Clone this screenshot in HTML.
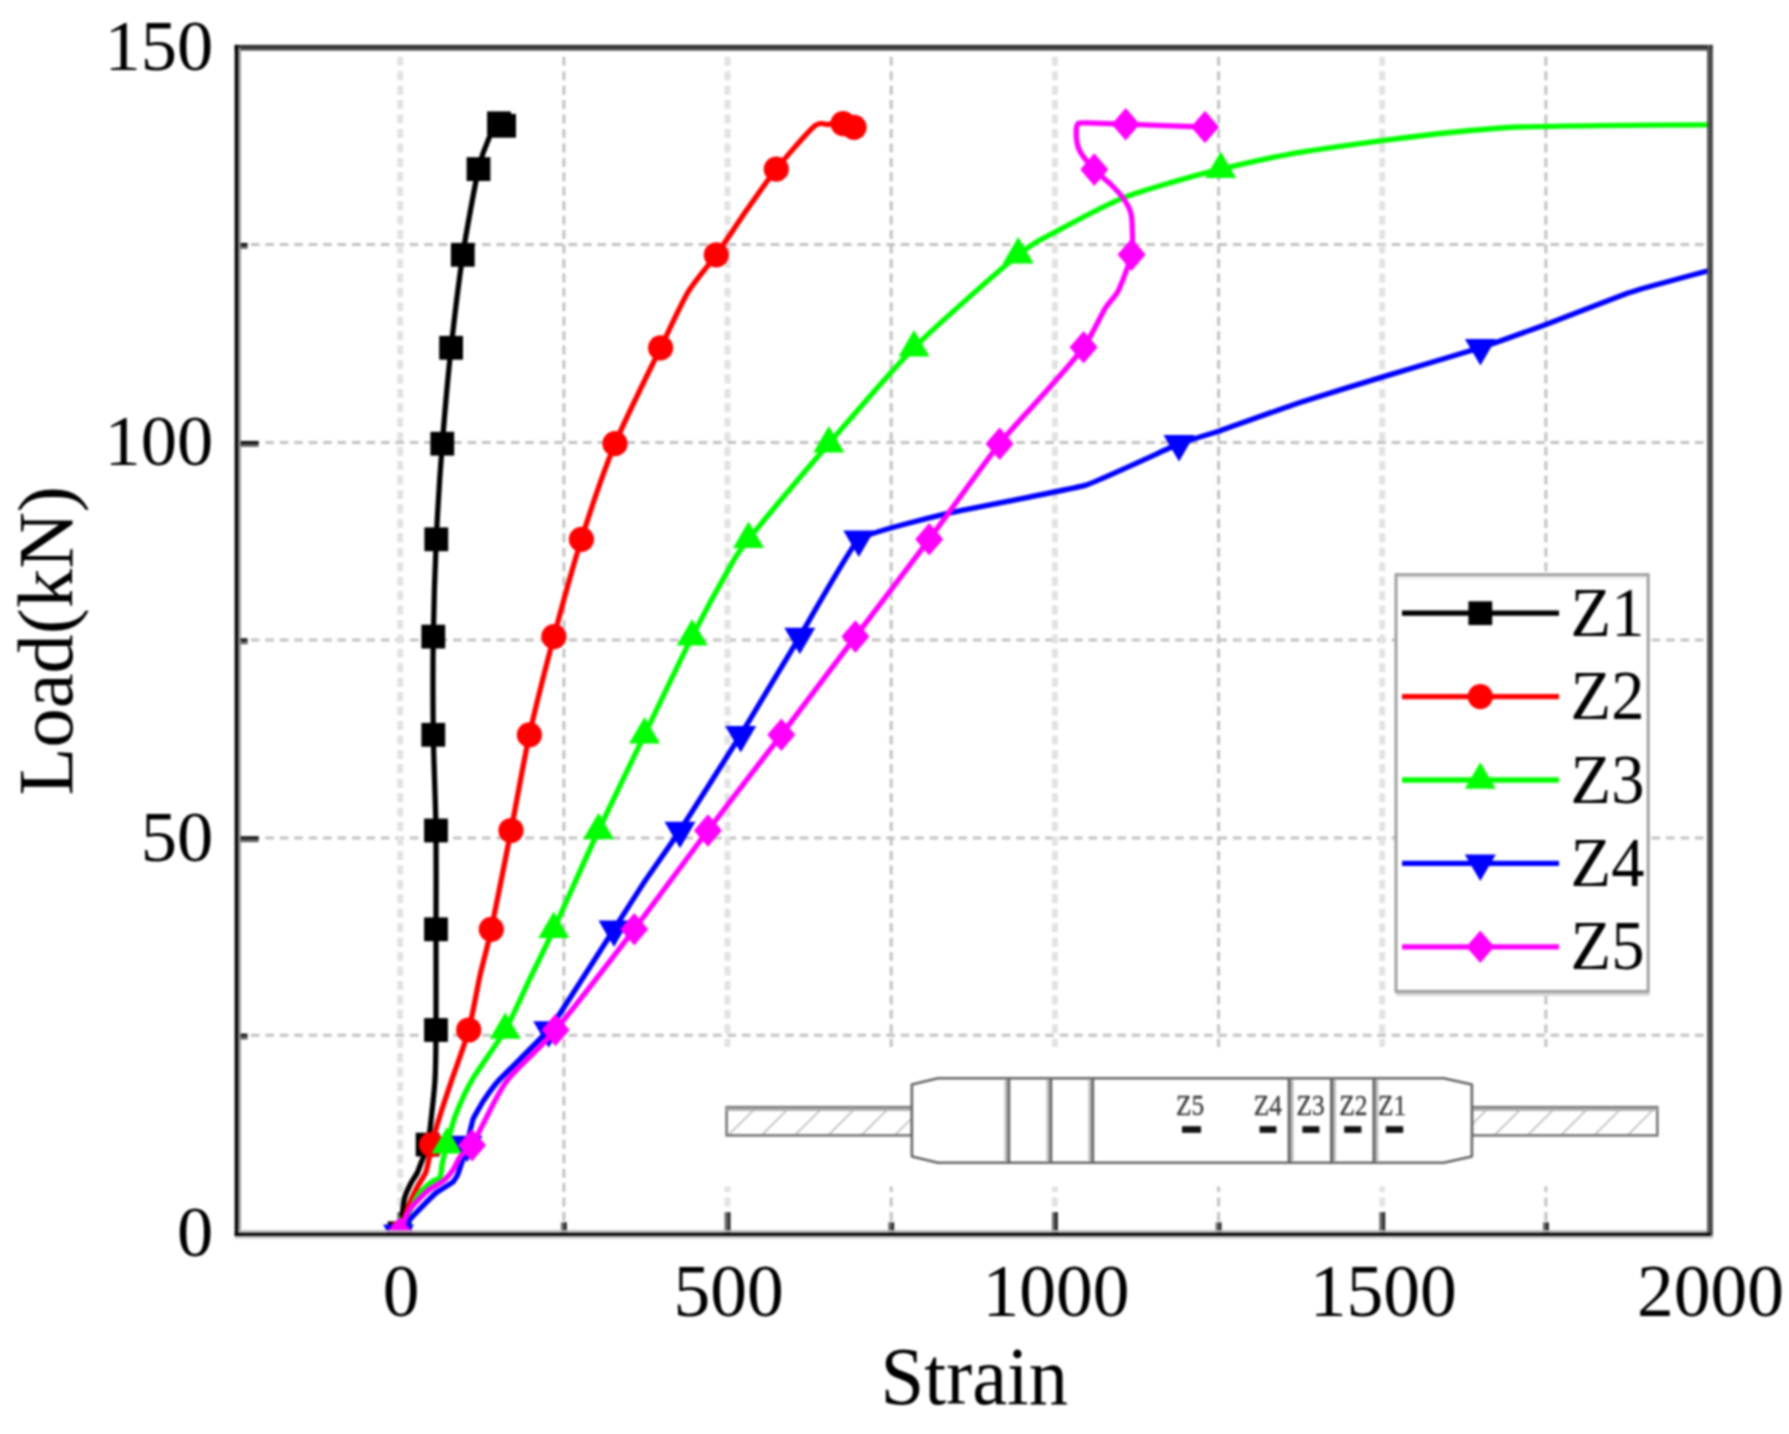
<!DOCTYPE html>
<html lang="en">
<head>
<meta charset="utf-8">
<title>Load-Strain curves</title>
<style>
html,body{margin:0;padding:0;background:#ffffff;}
body{width:1789px;height:1434px;overflow:hidden;font-family:"Liberation Serif",serif;}
svg{display:block;filter:blur(0.8px);}
</style>
</head>
<body>
<svg width="1789" height="1434" viewBox="0 0 1789 1434">
<rect x="0" y="0" width="1789" height="1434" fill="#ffffff"/>
<defs>
<clipPath id="plotclip"><rect x="237.5" y="48.2" width="1472.5" height="1184.8"/></clipPath>
<clipPath id="barL"><rect x="727" y="1107.5" width="185" height="28"/></clipPath>
<clipPath id="barR"><rect x="1472" y="1107.5" width="185" height="28"/></clipPath>
</defs>
<g fill="none">
<line x1="236.5" y1="1035.3" x2="1707.0" y2="1035.3" stroke="#c2c2c2" stroke-width="3" stroke-dasharray="8.6 5.84"/>
<line x1="236.5" y1="837.9" x2="1707.0" y2="837.9" stroke="#c2c2c2" stroke-width="3" stroke-dasharray="8.6 5.84"/>
<line x1="236.5" y1="640.0" x2="1707.0" y2="640.0" stroke="#c2c2c2" stroke-width="3" stroke-dasharray="8.6 5.84"/>
<line x1="236.5" y1="442.6" x2="1707.0" y2="442.6" stroke="#c2c2c2" stroke-width="3" stroke-dasharray="8.6 5.84"/>
<line x1="236.5" y1="244.6" x2="1707.0" y2="244.6" stroke="#c2c2c2" stroke-width="3" stroke-dasharray="8.6 5.84"/>
<line x1="563.9" y1="56.8" x2="563.9" y2="1230" stroke="#c2c2c2" stroke-width="3" stroke-dasharray="9 5.44"/>
<line x1="891.2" y1="56.8" x2="891.2" y2="1230" stroke="#c2c2c2" stroke-width="3" stroke-dasharray="9 5.44"/>
<line x1="1218.6" y1="56.8" x2="1218.6" y2="1230" stroke="#c2c2c2" stroke-width="3" stroke-dasharray="9 5.44"/>
<line x1="1545.9" y1="56.8" x2="1545.9" y2="1230" stroke="#c2c2c2" stroke-width="3" stroke-dasharray="9 5.44"/>
<line x1="400.2" y1="56.8" x2="400.2" y2="1230" stroke="#e2e2e2" stroke-width="5.9" stroke-dasharray="9 5.44"/>
<line x1="727.5" y1="56.8" x2="727.5" y2="1230" stroke="#e2e2e2" stroke-width="5.9" stroke-dasharray="9 5.44"/>
<line x1="1054.9" y1="56.8" x2="1054.9" y2="1230" stroke="#e2e2e2" stroke-width="5.9" stroke-dasharray="9 5.44"/>
<line x1="1382.2" y1="56.8" x2="1382.2" y2="1230" stroke="#e2e2e2" stroke-width="5.9" stroke-dasharray="9 5.44"/>
</g>
<g>
<rect x="397.25" y="1212.1" width="2.95" height="21" fill="#6a6a6a"/><rect x="400.20" y="1212.1" width="2.95" height="21" fill="#262626"/>
<rect x="724.60" y="1212.1" width="2.95" height="21" fill="#6a6a6a"/><rect x="727.55" y="1212.1" width="2.95" height="21" fill="#262626"/>
<rect x="1051.95" y="1212.1" width="2.95" height="21" fill="#6a6a6a"/><rect x="1054.90" y="1212.1" width="2.95" height="21" fill="#262626"/>
<rect x="1379.30" y="1212.1" width="2.95" height="21" fill="#6a6a6a"/><rect x="1382.25" y="1212.1" width="2.95" height="21" fill="#262626"/>
<rect x="560.92" y="1222.3" width="2.95" height="11" fill="#6a6a6a"/><rect x="563.88" y="1222.3" width="2.95" height="11" fill="#262626"/>
<rect x="888.27" y="1222.3" width="2.95" height="11" fill="#6a6a6a"/><rect x="891.22" y="1222.3" width="2.95" height="11" fill="#262626"/>
<rect x="1215.62" y="1222.3" width="2.95" height="11" fill="#6a6a6a"/><rect x="1218.57" y="1222.3" width="2.95" height="11" fill="#262626"/>
<rect x="1542.97" y="1222.3" width="2.95" height="11" fill="#6a6a6a"/><rect x="1545.92" y="1222.3" width="2.95" height="11" fill="#262626"/>
<rect x="238" y="836.25" width="20.6" height="3.0" fill="#101010"/><rect x="238" y="839.20" width="20.6" height="2.9" fill="#5a5a5a"/>
<rect x="238" y="440.95" width="20.6" height="3.0" fill="#101010"/><rect x="238" y="443.90" width="20.6" height="2.9" fill="#5a5a5a"/>
<rect x="238" y="1033.65" width="9.6" height="3.0" fill="#101010"/><rect x="238" y="1036.60" width="9.6" height="2.9" fill="#5a5a5a"/>
<rect x="238" y="638.35" width="9.6" height="3.0" fill="#101010"/><rect x="238" y="641.30" width="9.6" height="2.9" fill="#5a5a5a"/>
<rect x="238" y="242.95" width="9.6" height="3.0" fill="#101010"/><rect x="238" y="245.90" width="9.6" height="2.9" fill="#5a5a5a"/>
</g>
<g clip-path="url(#plotclip)">
<path d="M399.6,1233.3 C399.8,1231.9 400.9,1226.3 401.5,1222.0 C402.1,1217.7 403.3,1203.3 404.4,1198.6 C405.5,1193.9 408.7,1187.6 410.3,1184.3 C411.9,1181.0 416.1,1175.2 417.4,1172.5 C418.7,1169.8 420.2,1165.1 421.0,1163.0 C421.8,1160.9 423.0,1158.3 423.8,1156.0 C424.6,1153.7 426.8,1148.5 427.6,1144.6 C428.4,1140.7 429.6,1133.1 430.5,1125.0 C431.4,1116.9 434.3,1091.8 435.0,1079.9 C435.7,1068.0 435.9,1048.8 436.0,1030.0 C436.1,1011.2 436.0,954.2 436.0,929.3 C436.0,904.4 436.3,854.8 436.0,830.5 C435.7,806.2 433.6,759.0 433.3,734.8 C433.0,710.6 432.9,661.0 433.3,636.6 C433.7,612.2 435.2,563.4 436.3,539.3 C437.4,515.2 440.4,467.6 442.3,443.7 C444.2,419.8 448.5,371.4 451.1,347.8 C453.7,324.2 459.4,277.1 462.8,254.8 C466.2,232.5 475.2,183.7 478.5,169.1 C481.8,154.5 486.4,143.8 489.0,138.0 C491.6,132.3 497.1,124.8 499.0,123.3 C500.9,121.8 503.5,125.5 504.1,125.8" fill="none" stroke="#000000" stroke-width="5.3" stroke-linejoin="round" stroke-linecap="butt"/>
<rect x="387.7" y="1221.4" width="23.8" height="23.8" fill="#000000"/>
<rect x="415.7" y="1132.7" width="23.8" height="23.8" fill="#000000"/>
<rect x="424.1" y="1018.1" width="23.8" height="23.8" fill="#000000"/>
<rect x="424.1" y="917.4" width="23.8" height="23.8" fill="#000000"/>
<rect x="424.1" y="818.6" width="23.8" height="23.8" fill="#000000"/>
<rect x="421.4" y="722.9" width="23.8" height="23.8" fill="#000000"/>
<rect x="421.4" y="624.7" width="23.8" height="23.8" fill="#000000"/>
<rect x="424.4" y="527.4" width="23.8" height="23.8" fill="#000000"/>
<rect x="430.4" y="431.8" width="23.8" height="23.8" fill="#000000"/>
<rect x="439.2" y="335.9" width="23.8" height="23.8" fill="#000000"/>
<rect x="450.9" y="242.9" width="23.8" height="23.8" fill="#000000"/>
<rect x="466.6" y="157.2" width="23.8" height="23.8" fill="#000000"/>
<rect x="487.1" y="111.4" width="23.8" height="23.8" fill="#000000"/>
<rect x="492.2" y="113.9" width="23.8" height="23.8" fill="#000000"/>
<path d="M399.6,1233.3 C400.8,1229.7 406.9,1210.3 409.1,1204.5 C411.3,1198.7 415.3,1190.7 417.4,1186.7 C419.5,1182.7 424.2,1176.2 425.7,1172.5 C427.2,1168.8 428.6,1160.5 429.3,1157.0 C430.0,1153.5 430.3,1149.8 431.6,1144.6 C432.9,1139.4 437.5,1123.6 440.0,1115.5 C442.5,1107.5 448.2,1090.6 451.8,1079.9 C455.4,1069.2 465.2,1043.1 468.7,1030.0 C472.2,1016.9 477.2,988.0 480.0,975.5 C482.8,962.9 487.4,947.4 491.3,929.3 C495.2,911.2 506.2,854.8 511.0,830.5 C515.8,806.2 524.0,759.0 529.4,734.8 C534.8,710.6 547.4,661.0 553.9,636.6 C560.4,612.2 573.8,563.4 581.4,539.3 C589.0,515.2 605.1,467.6 615.0,443.7 C624.9,419.8 651.4,366.8 660.6,347.8 C669.8,328.8 681.3,303.3 688.3,291.7 C695.3,280.1 709.1,264.9 716.3,254.8 C723.5,244.7 738.5,221.9 746.0,211.1 C753.5,200.4 767.8,179.7 776.3,169.1 C784.8,158.5 807.5,132.0 814.0,126.4 C820.5,120.8 824.4,124.8 828.0,124.4 C831.6,124.0 839.8,123.2 843.0,123.6 C846.2,124.0 852.6,126.8 854.0,127.3" fill="none" stroke="#ff0000" stroke-width="5.3" stroke-linejoin="round" stroke-linecap="butt"/>
<circle cx="399.6" cy="1233.3" r="12.6" fill="#ff0000"/>
<circle cx="431.6" cy="1144.6" r="12.6" fill="#ff0000"/>
<circle cx="468.7" cy="1030.0" r="12.6" fill="#ff0000"/>
<circle cx="491.3" cy="929.3" r="12.6" fill="#ff0000"/>
<circle cx="511.0" cy="830.5" r="12.6" fill="#ff0000"/>
<circle cx="529.4" cy="734.8" r="12.6" fill="#ff0000"/>
<circle cx="553.9" cy="636.6" r="12.6" fill="#ff0000"/>
<circle cx="581.4" cy="539.3" r="12.6" fill="#ff0000"/>
<circle cx="615.0" cy="443.7" r="12.6" fill="#ff0000"/>
<circle cx="660.6" cy="347.8" r="12.6" fill="#ff0000"/>
<circle cx="716.3" cy="254.8" r="12.6" fill="#ff0000"/>
<circle cx="776.3" cy="169.1" r="12.6" fill="#ff0000"/>
<circle cx="843.0" cy="123.6" r="12.6" fill="#ff0000"/>
<circle cx="854.0" cy="127.3" r="12.6" fill="#ff0000"/>
<path d="M399.6,1233.3 C401.8,1228.7 413.4,1202.6 417.4,1196.2 C421.4,1189.8 428.8,1184.4 431.6,1182.0 C434.4,1179.6 438.7,1179.6 440.0,1177.2 C441.3,1174.8 441.4,1167.1 442.3,1163.0 C443.2,1158.9 445.4,1150.5 447.0,1144.6 C448.6,1138.7 452.3,1123.6 455.4,1115.5 C458.5,1107.5 465.8,1090.6 472.0,1079.9 C478.2,1069.2 497.9,1042.7 505.2,1030.0 C512.5,1017.3 523.9,991.0 530.0,978.4 C536.1,965.8 545.1,947.8 553.7,929.3 C562.3,910.8 587.1,854.8 598.5,830.5 C609.9,806.2 632.8,759.0 644.5,734.8 C656.2,710.6 681.4,657.6 692.1,636.6 C702.8,615.6 723.0,578.8 730.0,566.6 C737.0,554.4 736.1,554.7 748.5,539.3 C760.9,523.9 808.1,467.6 828.8,443.7 C849.5,419.8 890.3,371.4 914.0,347.8 C937.7,324.2 1000.5,269.3 1018.2,254.8 C1036.0,240.3 1043.1,238.6 1056.0,231.6 C1068.9,224.6 1106.2,205.0 1121.3,198.6 C1136.4,192.3 1164.3,184.6 1176.7,180.9 C1189.1,177.2 1206.5,172.5 1220.7,169.1 C1234.9,165.7 1269.8,157.6 1290.0,154.1 C1310.2,150.5 1362.0,143.4 1382.0,140.7 C1402.0,138.0 1432.9,134.2 1450.0,132.5 C1467.1,130.8 1500.0,127.9 1518.7,127.0 C1537.5,126.1 1576.1,125.9 1600.0,125.6 C1623.9,125.3 1696.2,125.0 1710.0,124.9" fill="none" stroke="#00ff00" stroke-width="5.3" stroke-linejoin="round" stroke-linecap="butt"/>
<polygon points="399.6,1215.6 384.1,1242.1 415.1,1242.1" fill="#00ff00"/>
<polygon points="447.0,1126.9 431.5,1153.4 462.5,1153.4" fill="#00ff00"/>
<polygon points="505.2,1012.3 489.7,1038.8 520.7,1038.8" fill="#00ff00"/>
<polygon points="553.7,911.6 538.2,938.1 569.2,938.1" fill="#00ff00"/>
<polygon points="598.5,812.8 583.0,839.3 614.0,839.3" fill="#00ff00"/>
<polygon points="644.5,717.1 629.0,743.6 660.0,743.6" fill="#00ff00"/>
<polygon points="692.1,618.9 676.6,645.4 707.6,645.4" fill="#00ff00"/>
<polygon points="748.5,521.6 733.0,548.1 764.0,548.1" fill="#00ff00"/>
<polygon points="828.8,426.0 813.3,452.5 844.3,452.5" fill="#00ff00"/>
<polygon points="914.0,330.1 898.5,356.6 929.5,356.6" fill="#00ff00"/>
<polygon points="1018.2,237.1 1002.7,263.6 1033.7,263.6" fill="#00ff00"/>
<polygon points="1220.7,151.4 1205.2,177.9 1236.2,177.9" fill="#00ff00"/>
<path d="M398.5,1233.3 C399.3,1232.3 413.1,1216.0 415.0,1214.0 C416.9,1212.0 434.5,1194.2 436.4,1192.6 C438.3,1191.0 451.9,1182.9 453.0,1182.0 C454.1,1181.1 457.3,1175.5 457.7,1174.8 C458.1,1174.1 459.6,1169.2 460.1,1167.7 C460.6,1166.2 466.4,1147.0 467.0,1144.6 C467.6,1142.2 472.2,1121.2 473.1,1119.0 C474.0,1116.7 482.7,1101.9 484.0,1099.9 C485.3,1098.0 496.0,1083.4 499.2,1079.9 C502.4,1076.4 544.9,1034.5 548.7,1030.0 C552.5,1025.5 571.7,995.3 575.0,990.3 C578.3,985.2 610.5,934.8 614.0,929.3 C617.5,923.8 641.7,885.8 645.0,880.9 C648.3,876.0 675.2,837.8 680.0,830.5 C684.8,823.2 734.7,744.5 740.7,734.8 C746.7,725.1 793.9,646.4 799.8,636.6 C805.7,626.8 851.4,545.5 858.8,539.3 C866.2,533.1 936.3,516.0 947.6,513.3 C958.9,510.6 1073.4,488.9 1085.0,485.4 C1096.6,481.9 1172.3,446.5 1179.0,443.8 C1185.7,441.1 1213.2,433.1 1219.3,431.1 C1225.3,429.0 1291.6,405.1 1300.0,402.4 C1308.4,399.6 1378.0,378.3 1387.0,375.6 C1396.0,372.9 1472.5,350.4 1480.4,347.8 C1488.4,345.2 1538.6,327.1 1546.0,324.4 C1553.4,321.6 1622.3,295.1 1628.0,293.1 C1633.7,291.0 1655.9,284.8 1660.0,283.7 C1664.1,282.6 1707.5,270.9 1710.0,270.3" fill="none" stroke="#0000ff" stroke-width="5.3" stroke-linejoin="round" stroke-linecap="butt"/>
<polygon points="398.5,1251.0 383.0,1224.5 414.0,1224.5" fill="#0000ff"/>
<polygon points="467.0,1162.3 451.5,1135.8 482.5,1135.8" fill="#0000ff"/>
<polygon points="548.7,1047.7 533.2,1021.2 564.2,1021.2" fill="#0000ff"/>
<polygon points="614.0,947.0 598.5,920.5 629.5,920.5" fill="#0000ff"/>
<polygon points="680.0,848.2 664.5,821.7 695.5,821.7" fill="#0000ff"/>
<polygon points="740.7,752.5 725.2,726.0 756.2,726.0" fill="#0000ff"/>
<polygon points="799.8,654.3 784.3,627.8 815.3,627.8" fill="#0000ff"/>
<polygon points="858.8,557.0 843.3,530.5 874.3,530.5" fill="#0000ff"/>
<polygon points="1179.0,461.5 1163.5,435.0 1194.5,435.0" fill="#0000ff"/>
<polygon points="1480.4,365.5 1464.9,339.0 1495.9,339.0" fill="#0000ff"/>
<path d="M399.6,1233.3 C400.8,1230.4 405.7,1215.6 409.1,1210.4 C412.5,1205.2 422.6,1195.1 426.9,1191.4 C431.2,1187.7 440.2,1183.5 443.5,1180.8 C446.8,1178.1 450.9,1173.0 453.0,1170.0 C455.1,1167.0 457.6,1160.1 460.0,1157.0 C462.4,1153.9 469.2,1149.2 472.0,1145.2 C474.8,1141.2 478.2,1133.1 482.6,1125.0 C487.0,1116.8 498.4,1091.8 507.5,1079.9 C516.6,1068.0 539.7,1048.8 555.5,1030.0 C571.3,1011.2 615.2,954.2 634.2,929.3 C653.2,904.4 689.5,854.8 707.9,830.5 C726.3,806.2 762.9,759.0 781.3,734.8 C799.7,710.6 836.9,661.0 855.4,636.6 C873.9,612.2 911.2,563.4 929.2,539.3 C947.2,515.2 985.1,462.0 999.6,443.7 C1014.1,425.4 1034.5,404.7 1045.0,392.6 C1055.5,380.6 1076.1,357.7 1083.6,347.2 C1091.1,336.7 1100.7,315.7 1105.0,308.6 C1109.3,301.6 1115.0,297.4 1118.3,290.7 C1121.6,283.9 1129.8,262.2 1131.6,254.6 C1133.3,247.0 1132.4,235.2 1132.3,230.0 C1132.2,224.8 1132.0,217.0 1130.9,213.2 C1129.9,209.3 1126.3,202.7 1123.9,199.1 C1121.5,195.6 1115.1,188.7 1111.4,185.0 C1107.7,181.3 1098.2,173.8 1094.3,169.6 C1090.4,165.4 1082.2,155.3 1080.0,151.5 C1077.8,147.6 1076.8,142.2 1076.5,138.8 C1076.2,135.5 1076.2,126.9 1077.2,124.9 C1078.2,122.9 1078.8,122.9 1084.9,122.8 C1091.0,122.7 1110.7,123.7 1125.7,124.2 C1140.7,124.7 1195.1,126.7 1205.0,127.0" fill="none" stroke="#ff00ff" stroke-width="5.3" stroke-linejoin="round" stroke-linecap="butt"/>
<polygon points="399.6,1217.0 413.6,1233.3 399.6,1249.6 385.6,1233.3" fill="#ff00ff"/>
<polygon points="472.0,1128.9 486.0,1145.2 472.0,1161.5 458.0,1145.2" fill="#ff00ff"/>
<polygon points="555.5,1013.7 569.5,1030.0 555.5,1046.3 541.5,1030.0" fill="#ff00ff"/>
<polygon points="634.2,913.0 648.2,929.3 634.2,945.6 620.2,929.3" fill="#ff00ff"/>
<polygon points="707.9,814.2 721.9,830.5 707.9,846.8 693.9,830.5" fill="#ff00ff"/>
<polygon points="781.3,718.5 795.3,734.8 781.3,751.1 767.3,734.8" fill="#ff00ff"/>
<polygon points="855.4,620.3 869.4,636.6 855.4,652.9 841.4,636.6" fill="#ff00ff"/>
<polygon points="929.2,523.0 943.2,539.3 929.2,555.6 915.2,539.3" fill="#ff00ff"/>
<polygon points="999.6,427.4 1013.6,443.7 999.6,460.0 985.6,443.7" fill="#ff00ff"/>
<polygon points="1083.6,330.9 1097.6,347.2 1083.6,363.5 1069.6,347.2" fill="#ff00ff"/>
<polygon points="1131.6,238.3 1145.6,254.6 1131.6,270.9 1117.6,254.6" fill="#ff00ff"/>
<polygon points="1094.3,153.3 1108.3,169.6 1094.3,185.9 1080.3,169.6" fill="#ff00ff"/>
<polygon points="1125.7,107.9 1139.7,124.2 1125.7,140.5 1111.7,124.2" fill="#ff00ff"/>
<polygon points="1205.0,110.7 1219.0,127.0 1205.0,143.3 1191.0,127.0" fill="#ff00ff"/>
</g>
<g>
<rect x="715" y="1047" width="960" height="139.5" fill="#ffffff"/>
<g clip-path="url(#barL)" stroke="#c4c4c4" stroke-width="1.8" fill="none">
<line x1="727.6" y1="1136" x2="756.6" y2="1107"/>
<line x1="760.9" y1="1136" x2="789.9" y2="1107"/>
<line x1="794.2" y1="1136" x2="823.2" y2="1107"/>
<line x1="827.5" y1="1136" x2="856.5" y2="1107"/>
<line x1="860.8" y1="1136" x2="889.8" y2="1107"/>
<line x1="894.1" y1="1136" x2="923.1" y2="1107"/>
</g>
<rect x="726.6" y="1107.2" width="185.4" height="28.2" fill="none" stroke="#777777" stroke-width="2.6"/>
<line x1="726.6" y1="1109.5" x2="912.0" y2="1109.5" stroke="#b0b0b0" stroke-width="3"/>
<g clip-path="url(#barR)" stroke="#c4c4c4" stroke-width="1.8" fill="none">
<line x1="1460.4" y1="1136" x2="1489.4" y2="1107"/>
<line x1="1493.7" y1="1136" x2="1522.7" y2="1107"/>
<line x1="1527.0" y1="1136" x2="1556.0" y2="1107"/>
<line x1="1560.3" y1="1136" x2="1589.3" y2="1107"/>
<line x1="1593.6" y1="1136" x2="1622.6" y2="1107"/>
<line x1="1626.9" y1="1136" x2="1655.9" y2="1107"/>
<line x1="1660.2" y1="1136" x2="1689.2" y2="1107"/>
</g>
<rect x="1472.0" y="1107.2" width="185.3" height="28.2" fill="none" stroke="#777777" stroke-width="2.6"/>
<line x1="1472.0" y1="1109.5" x2="1657.3" y2="1109.5" stroke="#b0b0b0" stroke-width="3"/>
<path d="M911.9,1084.4 L938,1078.3 L1443.6,1078.3 L1471.9,1084.4 L1471.9,1156.4 L1443.6,1162.7 L938,1162.7 L911.9,1156.4 Z" fill="#ffffff" stroke="#666666" stroke-width="2.6" stroke-linejoin="round"/>
<line x1="1005.9" y1="1079.5" x2="1005.9" y2="1161.5" stroke="#c0c0c0" stroke-width="3"/>
<line x1="1008.8" y1="1078.3" x2="1008.8" y2="1162.7" stroke="#686868" stroke-width="3"/>
<line x1="1047.9" y1="1079.5" x2="1047.9" y2="1161.5" stroke="#c0c0c0" stroke-width="3"/>
<line x1="1050.8" y1="1078.3" x2="1050.8" y2="1162.7" stroke="#686868" stroke-width="3"/>
<line x1="1089.8" y1="1079.5" x2="1089.8" y2="1161.5" stroke="#c0c0c0" stroke-width="3"/>
<line x1="1092.7" y1="1078.3" x2="1092.7" y2="1162.7" stroke="#686868" stroke-width="3"/>
<line x1="1292.1" y1="1079.5" x2="1292.1" y2="1161.5" stroke="#bcbcbc" stroke-width="3"/>
<line x1="1289.2" y1="1078.3" x2="1289.2" y2="1162.7" stroke="#686868" stroke-width="3.2"/>
<line x1="1334.5" y1="1079.5" x2="1334.5" y2="1161.5" stroke="#bcbcbc" stroke-width="3"/>
<line x1="1331.6" y1="1078.3" x2="1331.6" y2="1162.7" stroke="#686868" stroke-width="3.2"/>
<line x1="1376.9" y1="1079.5" x2="1376.9" y2="1161.5" stroke="#bcbcbc" stroke-width="3"/>
<line x1="1374.0" y1="1078.3" x2="1374.0" y2="1162.7" stroke="#686868" stroke-width="3.2"/>
<text transform="translate(1190.2,1115) scale(0.86,1)" font-family="'Liberation Serif', serif" font-size="29.5" text-anchor="middle" fill="#3a3a3a" stroke="#3a3a3a" stroke-width="0.4">Z5</text>
<rect x="1182.0" y="1126.2" width="19.0" height="6.6" fill="#111111"/>
<text transform="translate(1267.9,1115) scale(0.86,1)" font-family="'Liberation Serif', serif" font-size="29.5" text-anchor="middle" fill="#3a3a3a" stroke="#3a3a3a" stroke-width="0.4">Z4</text>
<rect x="1259.6" y="1126.2" width="16.8" height="6.6" fill="#111111"/>
<text transform="translate(1310.5,1115) scale(0.86,1)" font-family="'Liberation Serif', serif" font-size="29.5" text-anchor="middle" fill="#3a3a3a" stroke="#3a3a3a" stroke-width="0.4">Z3</text>
<rect x="1302.4" y="1126.2" width="17.0" height="6.6" fill="#111111"/>
<text transform="translate(1353.3,1115) scale(0.86,1)" font-family="'Liberation Serif', serif" font-size="29.5" text-anchor="middle" fill="#3a3a3a" stroke="#3a3a3a" stroke-width="0.4">Z2</text>
<rect x="1344.2" y="1126.2" width="17.2" height="6.6" fill="#111111"/>
<text transform="translate(1392.2,1115) scale(0.86,1)" font-family="'Liberation Serif', serif" font-size="29.5" text-anchor="middle" fill="#3a3a3a" stroke="#3a3a3a" stroke-width="0.4">Z1</text>
<rect x="1385.8" y="1126.2" width="17.4" height="6.6" fill="#111111"/>
</g>
<g>
<rect x="1396.0" y="993" width="253.6" height="3" fill="#d6d6d6"/>
<rect x="1396.0" y="574.7" width="252.2" height="416.7" fill="#ffffff" stroke="#9c9c9c" stroke-width="2.9"/>
<rect x="1397.5" y="576.1" width="249.3" height="2.7" fill="#e8e8e8"/>
<line x1="1402" y1="613.2" x2="1559" y2="613.2" stroke="#000000" stroke-width="5.3"/>
<rect x="1468.4" y="601.3" width="23.8" height="23.8" fill="#000000"/>
<text transform="translate(1570.6,635.8) scale(1,1.035)" font-family="'Liberation Serif', serif" font-size="66.5" fill="#000000">Z1</text>
<line x1="1402" y1="696.6" x2="1559" y2="696.6" stroke="#ff0000" stroke-width="5.3"/>
<circle cx="1480.3" cy="696.6" r="12.6" fill="#ff0000"/>
<text transform="translate(1570.6,719.2) scale(1,1.035)" font-family="'Liberation Serif', serif" font-size="66.5" fill="#000000">Z2</text>
<line x1="1402" y1="780.0" x2="1559" y2="780.0" stroke="#00ff00" stroke-width="5.3"/>
<polygon points="1480.3,762.3 1464.8,788.8 1495.8,788.8" fill="#00ff00"/>
<text transform="translate(1570.6,802.6) scale(1,1.035)" font-family="'Liberation Serif', serif" font-size="66.5" fill="#000000">Z3</text>
<line x1="1402" y1="863.4" x2="1559" y2="863.4" stroke="#0000ff" stroke-width="5.3"/>
<polygon points="1480.3,881.1 1464.8,854.6 1495.8,854.6" fill="#0000ff"/>
<text transform="translate(1570.6,886.0) scale(1,1.035)" font-family="'Liberation Serif', serif" font-size="66.5" fill="#000000">Z4</text>
<line x1="1402" y1="946.8" x2="1559" y2="946.8" stroke="#ff00ff" stroke-width="5.3"/>
<polygon points="1480.3,930.5 1494.3,946.8 1480.3,963.1 1466.3,946.8" fill="#ff00ff"/>
<text transform="translate(1570.6,969.4) scale(1,1.035)" font-family="'Liberation Serif', serif" font-size="66.5" fill="#000000">Z5</text>
</g>
<g>
<rect x="234.7" y="44.9" width="1478.1" height="3.05" fill="#2d2d2d"/>
<rect x="234.7" y="47.95" width="1478.1" height="2.65" fill="#4c4c4c"/>
<rect x="1707.1" y="44.9" width="2.8" height="1191" fill="#525252"/>
<rect x="1709.9" y="44.9" width="2.9" height="1191" fill="#404040"/>
<rect x="238" y="47.9" width="2.8" height="1188" fill="#8e8e8e"/>
<rect x="234.7" y="44.9" width="3.3" height="1191" fill="#000000"/>
<rect x="238" y="1230" width="1469.1" height="2.8" fill="#b9b9b9" fill-opacity="0.9"/>
<rect x="234.7" y="1235.9" width="1478.1" height="2.8" fill="#c8c8c8"/>
<rect x="234.7" y="1232.8" width="1475.2" height="3.1" fill="#000000"/>
</g>
<g font-family="'Liberation Serif', serif" fill="#000000">
<text x="401.2" y="1315.6" font-size="73.5" text-anchor="middle">0</text>
<text x="728.5" y="1315.6" font-size="73.5" text-anchor="middle">500</text>
<text x="1055.9" y="1315.6" font-size="73.5" text-anchor="middle">1000</text>
<text x="1383.2" y="1315.6" font-size="73.5" text-anchor="middle">1500</text>
<text x="1710.6" y="1315.6" font-size="73.5" text-anchor="middle">2000</text>
<text x="213.2" y="1256.3" font-size="72.5" text-anchor="end">0</text>
<text x="213.2" y="860.8" font-size="72.5" text-anchor="end">50</text>
<text x="213.2" y="465.2" font-size="72.5" text-anchor="end">100</text>
<text x="213.2" y="69.7" font-size="72.5" text-anchor="end">150</text>
</g>
<text transform="translate(974.3,1404) scale(1,1.05)" text-anchor="middle" font-family="'Liberation Serif', serif" font-size="78.6" fill="#000000">Strain</text>
<text transform="translate(71.6,640.8) rotate(-90)" text-anchor="middle" font-family="'Liberation Serif', serif" font-size="78.5" fill="#000000">Load(kN)</text>
</svg>
</body>
</html>
